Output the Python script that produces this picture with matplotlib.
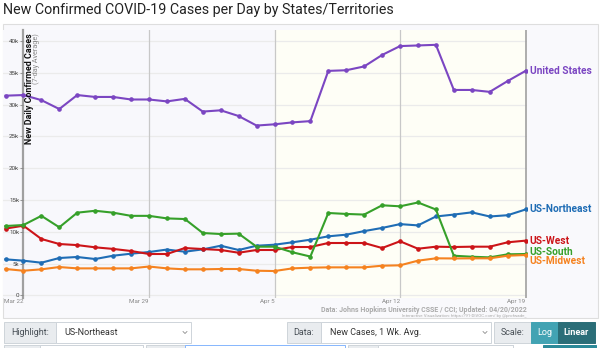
import matplotlib.pyplot as plt
from matplotlib.patches import Rectangle
from matplotlib.lines import Line2D
import numpy as np

plt.rcParams['font.family'] = ['Roboto', 'DejaVu Sans']

# Data (7-day avg new cases, thousands), Mar 21 .. Apr 19 2022
dates = ['Mar 21', 'Mar 22', 'Mar 23', 'Mar 24', 'Mar 25', 'Mar 26', 'Mar 27', 'Mar 28',
         'Mar 29', 'Mar 30', 'Mar 31', 'Apr 1', 'Apr 2', 'Apr 3', 'Apr 4', 'Apr 5',
         'Apr 6', 'Apr 7', 'Apr 8', 'Apr 9', 'Apr 10', 'Apr 11', 'Apr 12', 'Apr 13',
         'Apr 14', 'Apr 15', 'Apr 16', 'Apr 17', 'Apr 18', 'Apr 19']
us_total = [31.4, 31.5, 30.7, 29.3, 31.5, 31.2, 31.2, 30.8, 30.8, 30.5, 30.9, 28.9, 29.1, 28.2,
            26.7, 26.9, 27.2, 27.4, 35.3, 35.4, 36.0, 37.8, 39.2, 39.3, 39.4, 32.3, 32.3, 32.0,
            33.7, 35.3]
us_northeast = [5.66, 5.45, 5.13, 5.87, 6.03, 5.71, 6.23, 6.55, 6.81, 7.2, 6.86, 7.23, 7.8, 7.13,
                7.8, 7.96, 8.34, 8.75, 9.28, 9.54, 10.1, 10.6, 11.2, 11.0, 12.4, 12.7, 13.05,
                12.4, 12.6, 13.5]
us_west = [10.5, 10.95, 8.86, 8.07, 7.9, 7.55, 7.3, 6.97, 6.5, 6.5, 7.44, 7.28, 7.13, 6.7,
           7.13, 7.13, 7.6, 7.6, 8.23, 8.23, 8.23, 7.44, 8.5, 7.33, 7.65, 7.6, 7.65, 7.65,
           8.34, 8.6]
us_south = [10.9, 11.06, 12.5, 10.7, 13.0, 13.3, 13.0, 12.5, 12.5, 12.1, 12.0, 9.8, 9.64, 9.7,
            7.65, 7.65, 6.77, 6.1, 12.95, 12.8, 12.7, 14.16, 14.0, 14.6, 13.5, 6.23, 6.07,
            5.97, 6.45, 6.5]
us_midwest = [4.14, 3.87, 4.09, 4.45, 4.24, 4.24, 4.24, 4.24, 4.53, 4.24, 4.09, 4.09, 4.14,
              4.14, 3.87, 3.82, 4.24, 4.35, 4.4, 4.4, 4.4, 4.66, 4.72, 5.45, 5.82, 5.8, 5.82,
              5.82, 6.23, 6.34]

names = ['United States', 'US-Northeast', 'US-West', 'US-South', 'US-Midwest']
series = [us_total, us_northeast, us_west, us_south, us_midwest]
colors = ['#7b46c2', '#1f6db5', '#cc1418', '#36a02a', '#f5821f']
label_dy = [0, 0, 0, 1.8, -4.2]

yticks = [0, 5, 10, 15, 20, 25, 30, 35, 40]
ytick_labels = ['0', '5k', '10k', '15k', '20k', '25k', '30k', '35k', '40k']
xticks = [1, 8, 15, 22, 29]

W, H = 600, 348
fig = plt.figure(figsize=(6, 3.48), dpi=100)

def px(x0, y0, x1, y1):
    return [x0 / W, 1 - y1 / H, (x1 - x0) / W, (y1 - y0) / H]

# outer panel, behind the axes
fig.patches.append(Rectangle((3 / W, 1 - 318 / H), 595 / W, 294 / H, transform=fig.transFigure,
                             facecolor='#f9f9fc', edgecolor='#dedede', lw=0.8, zorder=-5))

ax = fig.add_axes(px(3, 30, 527, 298))
ax.set_facecolor('#f8f8fc')
x = np.arange(len(dates))
ax.set_xlim(-0.14, 29.08)
ax.set_ylim(-0.42, 41.73)

ax.axvspan(15, 29.08, color='#fefef6', zorder=0)
for v in yticks:
    ax.axhline(v, color='#ebebeb', lw=0.9, zorder=1)
for v in xticks[1:4]:
    ax.axvline(v, color='#c8c8c8', lw=0.9, zorder=1)
ax.axvline(29, color='#a0a0a0', lw=1.2, zorder=1)

for s in ['top', 'right', 'bottom']:
    ax.spines[s].set_visible(False)
ax.spines['left'].set_position(('data', 1))
ax.spines['left'].set_color('#a0a0a0')
ax.spines['left'].set_linewidth(1.6)
ax.spines['left'].set_zorder(1.5)

ax.set_yticks(yticks)
ax.set_yticklabels(ytick_labels)
ax.tick_params(axis='y', length=2, width=0.6, color='#888', labelsize=4.5,
               labelcolor='#444', pad=1)
ax.set_xticks(xticks)
ax.set_xticklabels([dates[i] for i in xticks], ha='right')
ax.tick_params(axis='x', length=0, labelsize=4.5, labelcolor='#888', pad=1)

for name, vals, c, dy in zip(names, series, colors, label_dy):
    ax.plot(x, vals, color=c, lw=1.5, marker='o', ms=2.3, zorder=3)
    ax.annotate(name, xy=(x[-1], vals[-1]), xytext=(3, dy), textcoords='offset points',
                color=c, fontsize=7.3, fontweight='bold', va='center', ha='left',
                annotation_clip=False)

# axis title inside the plot
fig.text(29 / W, 1 - 33 / H, 'New Daily Confirmed Cases', rotation=90, ha='center', va='top',
         fontsize=6.4, fontweight='bold', color='#111')
fig.text(36.5 / W, 1 - 33 / H, '(7-day Average)', rotation=90, ha='center', va='top',
         fontsize=5.2, color='#888')

fig.text(3 / W, 1 - 10 / H, 'New Confirmed COVID-19 Cases per Day by States/Territories',
         ha='left', va='center', fontsize=10.3, color='#222')

fig.text(527 / W, 1 - 310 / H, 'Data: Johns Hopkins University CSSE / CCI; Updated: 04/20/2022',
         ha='right', va='center', fontsize=5, fontweight='bold', color='#aaa')
fig.text(527 / W, 1 - 316 / H, 'Interactive Visualization: https://91-DIVOC.com/ by @profwade_',
         ha='right', va='center', fontsize=3.2, color='#aaa')

# control bar below the chart
def box(x0, y0, x1, y1, fc, ec='#ced4da'):
    fig.patches.append(Rectangle((x0 / W, 1 - y1 / H), (x1 - x0) / W, (y1 - y0) / H,
                                 transform=fig.transFigure, facecolor=fc, edgecolor=ec, lw=0.7))

def chevron(xc, yc):
    fig.lines.append(Line2D([(xc - 2) / W, xc / W, (xc + 2) / W],
                            [1 - (yc - 1) / H, 1 - (yc + 1) / H, 1 - (yc - 1) / H],
                            transform=fig.transFigure, color='#777', lw=0.5))

box(4, 322, 56, 343, '#e9ecef')
box(56, 322, 191, 343, 'white')
fig.text(30 / W, 1 - 332.5 / H, 'Highlight:', ha='center', va='center', fontsize=6.5, color='#495057')
fig.text(64 / W, 1 - 332.5 / H, 'US-Northeast', ha='left', va='center', fontsize=6.5, color='#333')
chevron(185, 332.5)

box(287, 322, 321, 343, '#e9ecef')
box(321, 322, 491, 343, 'white')
fig.text(304 / W, 1 - 332.5 / H, 'Data:', ha='center', va='center', fontsize=6.5, color='#495057')
fig.text(330 / W, 1 - 332.5 / H, 'New Cases, 1 Wk. Avg.', ha='left', va='center', fontsize=6.5,
         color='#333')
chevron(485, 332.5)

box(494, 322, 531, 343, '#e9ecef')
box(531, 322, 558, 343, '#42a3b3', '#42a3b3')
box(558, 322, 595, 343, '#2b6e78', '#2b6e78')
fig.text(512.5 / W, 1 - 332.5 / H, 'Scale:', ha='center', va='center', fontsize=6.5, color='#495057')
fig.text(544.5 / W, 1 - 332.5 / H, 'Log', ha='center', va='center', fontsize=6.5, color='white')
fig.text(576.5 / W, 1 - 332.5 / H, 'Linear', ha='center', va='center', fontsize=6.5,
         fontweight='bold', color='white')

# next row of controls, cut off by the bottom edge
box(4, 345, 143, 352, '#e9ecef')
box(40, 345, 143, 352, 'white')
box(146, 345, 345, 352, '#e9ecef')
box(185, 345, 345, 352, 'white', '#86b7fe')
box(348, 345, 513, 352, '#e9ecef')
box(378, 345, 513, 352, 'white')
box(543, 345, 596, 352, '#2b8a99', '#2b8a99')

fig.savefig('out.png', dpi=100)
